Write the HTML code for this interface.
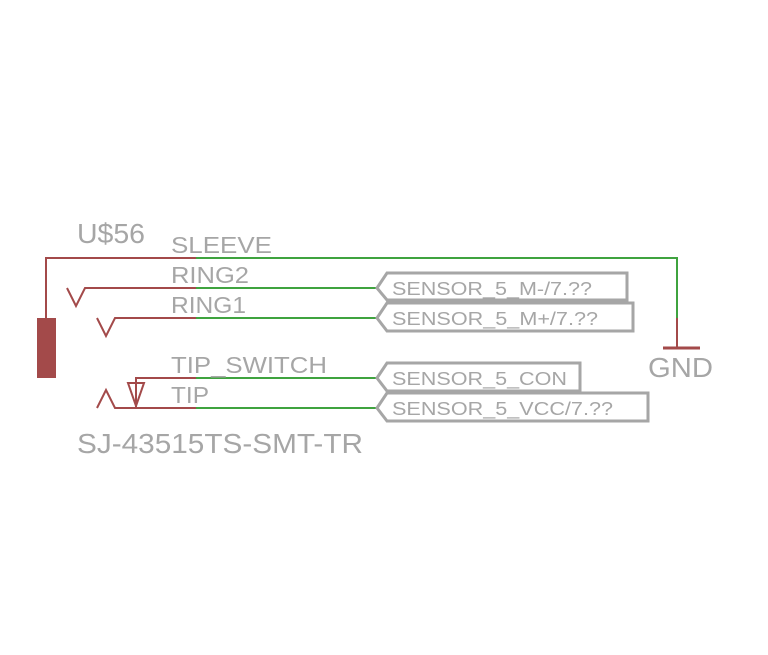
<!DOCTYPE html>
<html><head><style>body{margin:0;background:#fff}</style></head><body>
<svg width="768" height="650" xmlns="http://www.w3.org/2000/svg" font-family="Liberation Sans, sans-serif" fill="#a6a6a6">
<g stroke="#a34a4a" stroke-width="2" fill="none">
<polyline points="46,318 46,258 196,258"/>
<polyline points="67,288 76,306 85,288 196,288"/>
<polyline points="97,318 106,336 115,318 196,318"/>
<polyline points="196,378 136,378 136,408"/>
<polygon points="128,383 144,383 136,406"/>
<polyline points="97,408 106,390 115,408 196,408"/>
<line x1="677" y1="318" x2="677" y2="348"/>
</g>
<rect x="37" y="318" width="19" height="60" fill="#a34a4a"/>
<line x1="663" y1="348" x2="700" y2="348" stroke="#a34a4a" stroke-width="3"/>
<g stroke="#3fa33f" stroke-width="2" fill="none">
<polyline points="196,258 677,258 677,318"/>
<line x1="196" y1="288" x2="376" y2="288"/>
<line x1="196" y1="318" x2="376" y2="318"/>
<line x1="196" y1="378" x2="376" y2="378"/>
<line x1="196" y1="408" x2="376" y2="408"/>
</g>
<g stroke="#a6a6a6" stroke-width="3" fill="none">
<polygon points="377,288 387,273 627,273 627,300 387,300"/>
<polygon points="377,318 387,303 633,303 633,331 387,331"/>
<polygon points="377,378 387,363 580,363 580,391 387,391"/>
<polygon points="377,408 387,393 648,393 648,421 387,421"/>
</g>
<g font-size="18">
<text x="392" y="295" textLength="200" lengthAdjust="spacingAndGlyphs">SENSOR_5_M-/7.??</text>
<text x="392" y="325" textLength="206" lengthAdjust="spacingAndGlyphs">SENSOR_5_M+/7.??</text>
<text x="392" y="385" textLength="175" lengthAdjust="spacingAndGlyphs">SENSOR_5_CON</text>
<text x="392" y="415" textLength="221" lengthAdjust="spacingAndGlyphs">SENSOR_5_VCC/7.??</text>
</g>
<g font-size="23">
<text x="171" y="253" textLength="101" lengthAdjust="spacingAndGlyphs">SLEEVE</text>
<text x="171" y="283" textLength="78" lengthAdjust="spacingAndGlyphs">RING2</text>
<text x="171" y="313" textLength="75" lengthAdjust="spacingAndGlyphs">RING1</text>
<text x="171" y="373" textLength="156" lengthAdjust="spacingAndGlyphs">TIP_SWITCH</text>
<text x="171" y="403" textLength="38" lengthAdjust="spacingAndGlyphs">TIP</text>
</g>
<g font-size="28">
<text x="77" y="243" textLength="68" lengthAdjust="spacingAndGlyphs">U$56</text>
<text x="648" y="377" textLength="65" lengthAdjust="spacingAndGlyphs">GND</text>
<text x="77" y="453" textLength="286" lengthAdjust="spacingAndGlyphs">SJ-43515TS-SMT-TR</text>
</g>
</svg>
</body></html>
